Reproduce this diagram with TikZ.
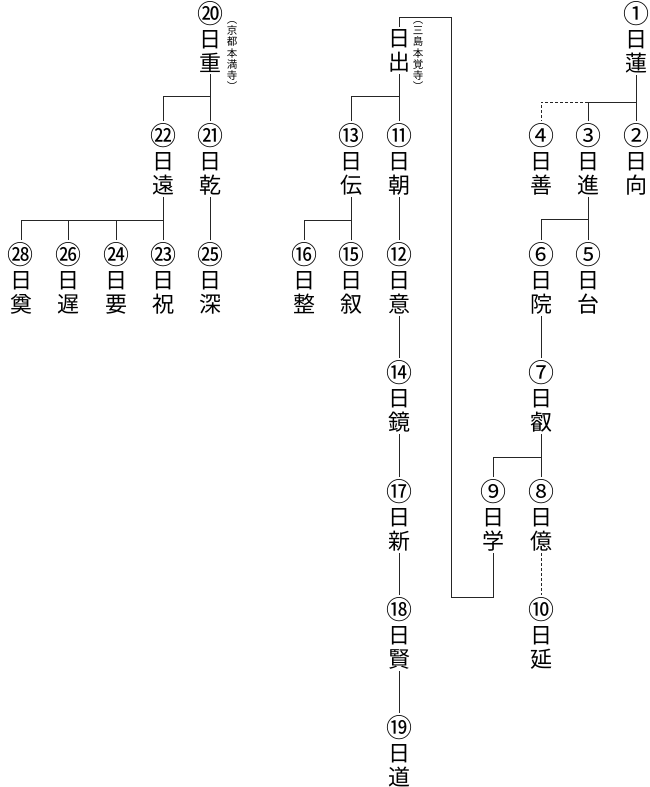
\documentclass[tikz,border=0pt]{standalone}
\usepackage{fontspec}
\newfontfamily\cjk{Noto Sans CJK JP}
\newcommand{\cn}[1]{{\fontsize{26}{24}\selectfont #1}}
\begin{document}
\begin{tikzpicture}[x=1pt,y=-1pt,
  person/.style={align=center, inner sep=0pt, inner ysep=2pt, anchor=north,
    font=\cjk\fontsize{22}{24}\selectfont},
  note/.style={align=center, inner sep=0pt, anchor=north,
    font=\cjk\fontsize{10.5}{11.3}\selectfont},
  link/.style={line width=0.7pt, draw=black!85},
  dlink/.style={link, dashed, dash pattern=on 3pt off 2pt}]
\useasboundingbox (0,0) rectangle (649,787);
% people: anchor north at (x, circle centre - 15)
\node[person] (n1) at (636,-1) {\cn{①}\\日\\蓮};
\node[person] (n2) at (636,121) {\cn{②}\\日\\向};
\node[person] (n3) at (588,121) {\cn{③}\\日\\進};
\node[person] (n4) at (541,121) {\cn{④}\\日\\善};
\node[person] (n5) at (588,240) {\cn{⑤}\\日\\台};
\node[person] (n6) at (541,240) {\cn{⑥}\\日\\院};
\node[person] (n7) at (541,358) {\cn{⑦}\\日\\叡};
\node[person] (n8) at (541,477) {\cn{⑧}\\日\\億};
\node[person] (n9) at (493,477) {\cn{⑨}\\日\\学};
\node[person] (n10) at (541,595) {\cn{⑩}\\日\\延};
\node[person] (nde) at (399,27) {日\\出};
\node[person] (n11) at (399,121) {\cn{⑪}\\日\\朝};
\node[person] (n13) at (351,121) {\cn{⑬}\\日\\伝};
\node[person] (n12) at (399,240) {\cn{⑫}\\日\\意};
\node[person] (n15) at (351,240) {\cn{⑮}\\日\\叙};
\node[person] (n16) at (304,240) {\cn{⑯}\\日\\整};
\node[person] (n14) at (399,358) {\cn{⑭}\\日\\鏡};
\node[person] (n17) at (399,477) {\cn{⑰}\\日\\新};
\node[person] (n18) at (399,595) {\cn{⑱}\\日\\賢};
\node[person] (n19) at (399,713) {\cn{⑲}\\日\\道};
\node[person] (n20) at (210,-1) {\cn{⑳}\\日\\重};
\node[person] (n21) at (210,121) {\cn{㉑}\\日\\乾};
\node[person] (n22) at (163,121) {\cn{㉒}\\日\\遠};
\node[person] (n25) at (210,240) {\cn{㉕}\\日\\深};
\node[person] (n23) at (163,240) {\cn{㉓}\\日\\祝};
\node[person] (n24) at (116,240) {\cn{㉔}\\日\\要};
\node[person] (n26) at (68,240) {\cn{㉖}\\日\\遅};
\node[person] (n28) at (21,240) {\cn{㉘}\\日\\奠};
% notes
\node[note] (a20) at (232,21) {︵\\京\\都\\本\\満\\寺\\︶};
\node[note] (ade) at (418,21) {︵\\三\\島\\本\\覚\\寺\\︶};
% connectors
\coordinate (j1) at (636,102);
\draw[link] (n1.south) -- (n2.north);
\draw[link] (j1) -| (n3.north);
\draw[dlink] (n3.north |- j1) -| (n4.north);
\draw[link] (n3.south) -- ++(0,22) coordinate (j3) -| (n6.north);
\draw[link] (j3) -- (n5.north);
\draw[link] (n6.south) -- (n7.north);
\draw[link] (n7.south) -- ++(0,23) coordinate (j7) -| (n9.north);
\draw[link] (j7) -- (n8.north);
\draw[dlink] (n8.south) -- (n10.north);
\coordinate (b1) at (493,597);
\coordinate (b2) at (451,597);
\coordinate (b3) at (451,17);
\coordinate (b4) at (399,17);
\draw[link] (n9.south) -- (b1) -- (b2) -- (b3) -- (b4) -- (nde.north);
\draw[link] (nde.south) -- ++(0,22) coordinate (jde) -| (n13.north);
\draw[link] (jde) -- (n11.north);
\draw[link] (n11.south) -- (n12.north);
\draw[link] (n12.south) -- (n14.north);
\draw[link] (n14.south) -- (n17.north);
\draw[link] (n17.south) -- (n18.north);
\draw[link] (n18.south) -- (n19.north);
\draw[link] (n13.south) -- ++(0,23) coordinate (j13) -| (n16.north);
\draw[link] (j13) -- (n15.north);
\draw[link] (n20.south) -- ++(0,22) coordinate (j20) -| (n22.north);
\draw[link] (j20) -- (n21.north);
\draw[link] (n21.south) -- (n25.north);
\draw[link] (n22.south) -- ++(0,23) coordinate (j22) -| (n28.north);
\draw[link] (j22) -- (n23.north);
\draw[link] (n24.north) -- (n24.north |- j22);
\draw[link] (n26.north) -- (n26.north |- j22);
\end{tikzpicture}
\end{document}
